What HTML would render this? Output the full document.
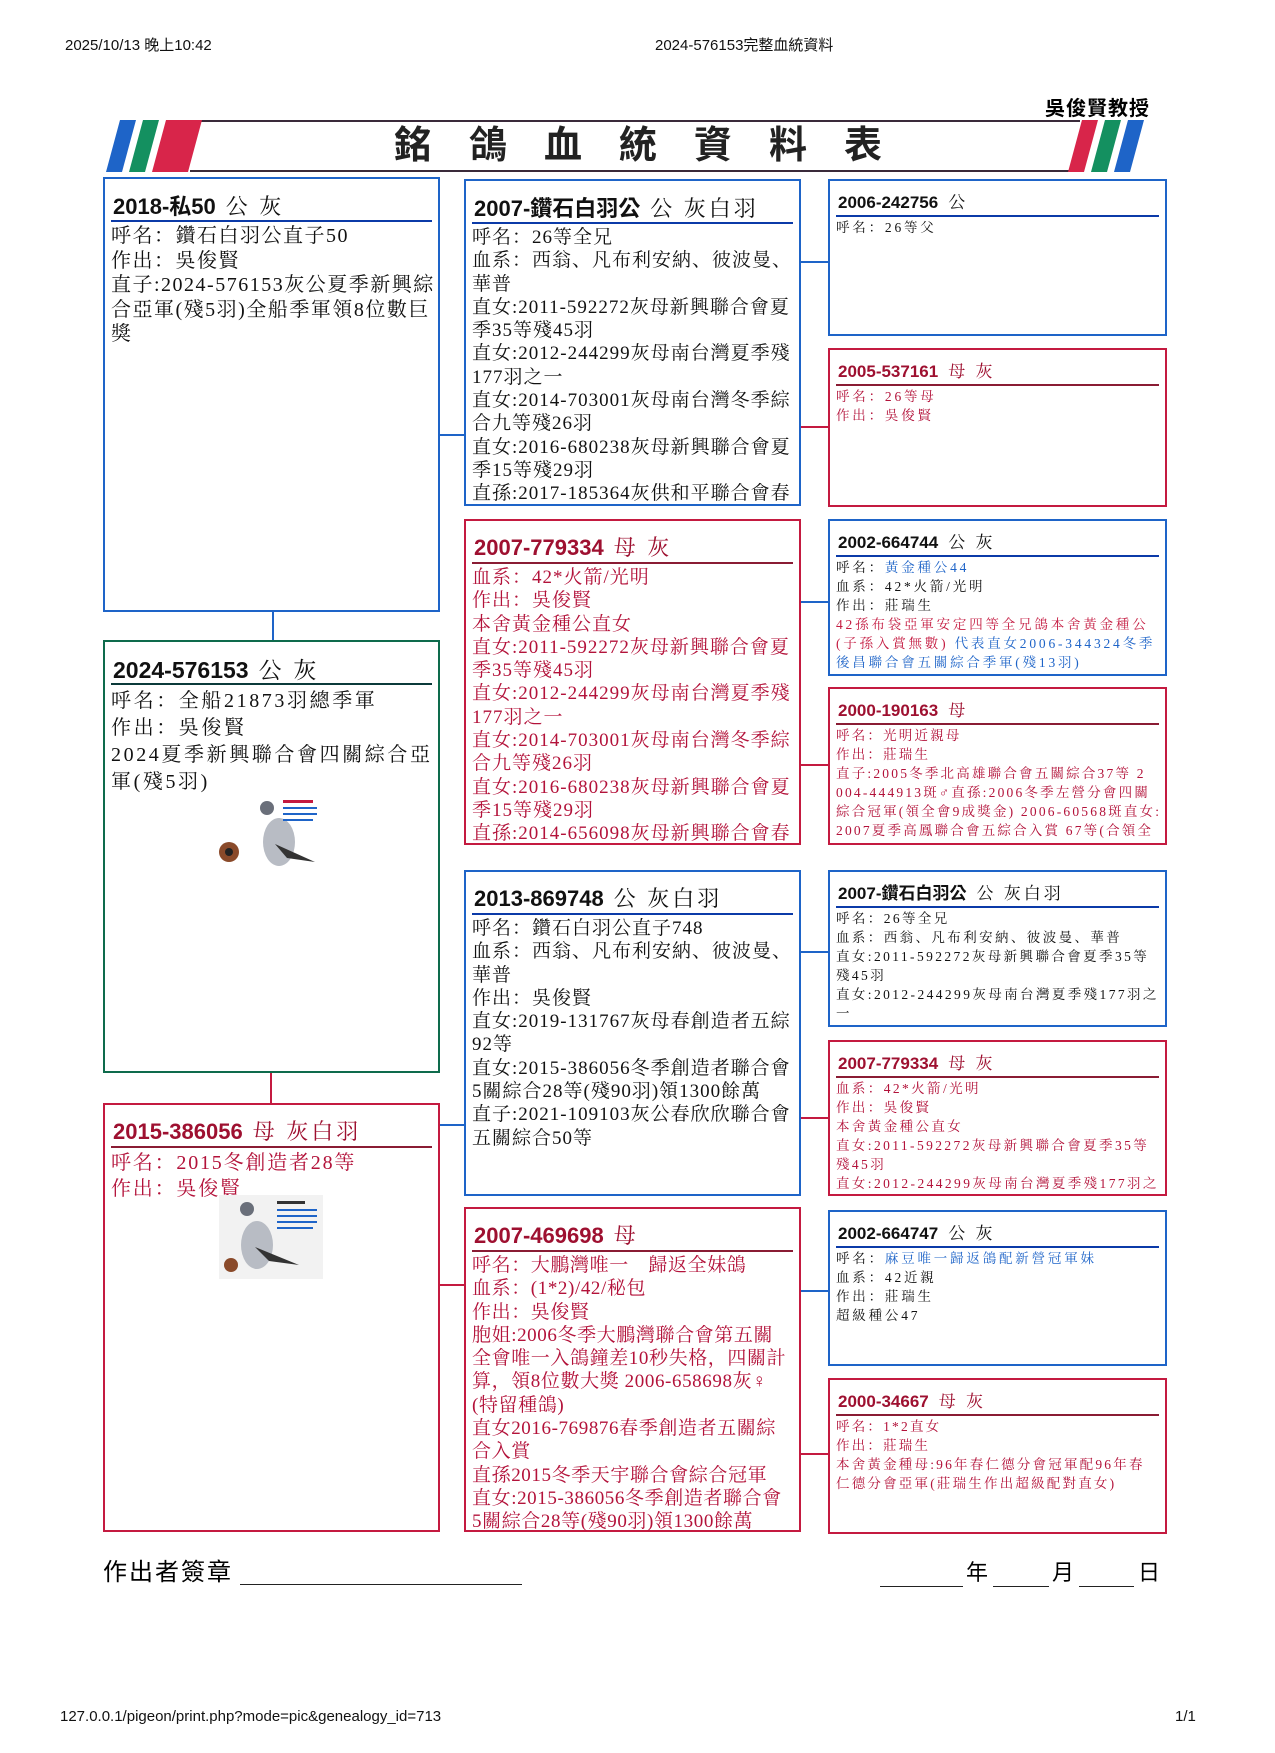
<!DOCTYPE html>
<html><head><meta charset="utf-8"><style>
body{margin:0;width:1275px;height:1753px;background:#fff;position:relative;overflow:hidden;font-family:"Liberation Serif","Noto Serif CJK SC",serif;}
.a{position:absolute;}
.hd{font-family:"Liberation Sans","Noto Sans CJK TC",sans-serif;font-size:15px;color:#111;}
.box{position:absolute;border:2px solid #1e64c8;box-sizing:border-box;background:#fff;}
.box.f{border-color:#c41a40;}
.box.g{border-color:#0e6b4c;}
.t{position:absolute;left:8px;font-family:"Liberation Sans","Noto Sans CJK TC",sans-serif;font-weight:bold;color:#111;white-space:nowrap;}
.t span{font-family:"Liberation Serif","Noto Serif CJK SC",serif;font-weight:normal;margin-left:10px;letter-spacing:3px;}
.f .t{color:#9e1030;}
.r{position:absolute;left:6px;right:6px;height:2px;background:#0b3aa8;}
.f .r{background:#8a1c34;}
.g .r{background:#0b3a3a;}
.b{position:absolute;left:6px;white-space:nowrap;color:#111;}
.f .b{color:#b3123a;}
.big .t{top:10px;font-size:22px;}
.big .r{top:41px;}
.big .b{top:45px;font-size:19px;line-height:23.3px;letter-spacing:1px;}
.sm .t{top:7px;font-size:17px;}
.sm .r{top:34px;height:1.5px;}
.sm .b{top:37px;font-size:13.5px;line-height:19px;letter-spacing:2.8px;}
.hl{position:absolute;height:2px;}
.vl{position:absolute;width:2px;}
.bl{background:#1e64c8;}.rd{background:#c41a40;}
.blu{color:#1e64c8;}.red{color:#c41a40;}
</style></head><body>
<div class="a hd" style="left:65px;top:34px;">2025/10/13 晚上10:42</div>
<div class="a hd" style="left:655px;top:34px;">2024-576153完整血統資料</div>
<div class="a" style="left:1045px;top:92px;font-size:20px;font-weight:bold;font-family:'Liberation Sans','Noto Sans CJK TC',sans-serif;letter-spacing:1px;">吳俊賢教授</div>

<svg class="a" style="left:0;top:0" width="1275" height="200">
<line x1="200" y1="121" x2="1080" y2="121" stroke="#3a2a3a" stroke-width="2"/>
<line x1="190" y1="171" x2="1070" y2="171" stroke="#3a2a3a" stroke-width="2"/>
<polygon points="120,120 136,120 122,172 106,172" fill="#1e64c8"/>
<polygon points="143,120 159,120 145,172 129,172" fill="#149060"/>
<polygon points="166,120 202,120 188,172 152,172" fill="#d8254a"/>
<polygon points="1082,120 1098,120 1084,172 1068,172" fill="#d8254a"/>
<polygon points="1105,120 1121,120 1107,172 1091,172" fill="#149060"/>
<polygon points="1128,120 1144,120 1130,172 1114,172" fill="#1e64c8"/>
</svg>
<div class="a" style="left:394px;top:125px;font-size:38px;line-height:42px;font-weight:bold;letter-spacing:37px;font-family:'Liberation Sans','Noto Sans CJK TC',sans-serif;color:#222;">銘鴿血統資料表</div>

<div class="vl bl" style="left:272px;top:612px;height:28px;"></div>
<div class="vl rd" style="left:270px;top:1073px;height:30px;"></div>
<div class="hl bl" style="left:440px;top:434px;width:24px;"></div>
<div class="hl bl" style="left:440px;top:1124px;width:24px;"></div>
<div class="hl rd" style="left:440px;top:1284px;width:24px;"></div>
<div class="hl bl" style="left:801px;top:261px;width:28px;"></div>
<div class="hl rd" style="left:801px;top:426px;width:28px;"></div>
<div class="hl bl" style="left:801px;top:601px;width:28px;"></div>
<div class="hl rd" style="left:801px;top:764px;width:28px;"></div>
<div class="hl bl" style="left:801px;top:951px;width:28px;"></div>
<div class="hl rd" style="left:801px;top:1117px;width:28px;"></div>
<div class="hl bl" style="left:801px;top:1290px;width:28px;"></div>
<div class="hl rd" style="left:801px;top:1453px;width:28px;"></div>

<div class="box big" style="left:103px;top:177px;width:337px;height:435px;">
<div class="t">2018-私50<span>公 灰</span></div><div class="r"></div>
<div class="b" style="line-height:24.6px;font-size:20px;letter-spacing:1.5px;">呼名：鑽石白羽公直子50<br>作出：吳俊賢<br>直子:2024-576153灰公夏季新興綜<br>合亞軍(殘5羽)全船季軍領8位數巨<br>獎</div>
</div>
<div class="box big g" style="left:103px;top:640px;width:337px;height:433px;">
<div class="t" style="font-size:23px;">2024-576153<span>公 灰</span></div><div class="r"></div>
<div class="b" style="font-size:20px;line-height:27px;top:46px;letter-spacing:2.6px;">呼名：全船21873羽總季軍<br>作出：吳俊賢<br>2024夏季新興聯合會四關綜合亞<br>軍(殘5羽)</div>
<svg class="a" style="left:112px;top:152px" width="110" height="82">
<ellipse cx="62" cy="48" rx="16" ry="24" fill="#b8bcc4"/><circle cx="50" cy="14" r="7" fill="#6a6f7a"/>
<path d="M58 50 L98 68 L70 64 Z" fill="#333"/><ellipse cx="12" cy="58" rx="10" ry="10" fill="#8a4a2a"/><circle cx="12" cy="58" r="4" fill="#222"/>
<rect x="66" y="6" width="30" height="3" fill="#c41a40"/><rect x="66" y="13" width="34" height="2" fill="#1e64c8"/><rect x="66" y="19" width="34" height="2" fill="#1e64c8"/><rect x="66" y="25" width="30" height="2" fill="#1e64c8"/>
</svg>
</div>
<div class="box big f" style="left:103px;top:1103px;width:337px;height:429px;">
<div class="t">2015-386056<span>母 灰白羽</span></div><div class="r"></div>
<div class="b" style="font-size:20px;line-height:26px;letter-spacing:1.8px;">呼名：2015冬創造者28等<br>作出：吳俊賢</div>
<div class="a" style="left:114px;top:90px;width:104px;height:84px;background:#f2f2f2;"></div>
<svg class="a" style="left:114px;top:90px" width="104" height="84">
<ellipse cx="38" cy="50" rx="16" ry="24" fill="#b8bcc4"/><circle cx="28" cy="14" r="7" fill="#6a6f7a"/>
<path d="M36 52 L80 70 L50 66 Z" fill="#333"/><circle cx="12" cy="70" r="7" fill="#8a4a2a"/>
<rect x="58" y="6" width="28" height="3" fill="#333"/><rect x="58" y="14" width="40" height="2" fill="#1e64c8"/><rect x="58" y="20" width="40" height="2" fill="#1e64c8"/><rect x="58" y="26" width="40" height="2" fill="#1e64c8"/><rect x="58" y="32" width="36" height="2" fill="#1e64c8"/>
</svg>
</div>

<div class="box big" style="left:464px;top:179px;width:337px;height:327px;">
<div class="t">2007-鑽石白羽公<span>公 灰白羽</span></div><div class="r"></div>
<div class="b">呼名：26等全兄<br>血系：西翁、凡布利安納、彼波曼、<br>華普<br>直女:2011-592272灰母新興聯合會夏<br>季35等殘45羽<br>直女:2012-244299灰母南台灣夏季殘<br>177羽之一<br>直女:2014-703001灰母南台灣冬季綜<br>合九等殘26羽<br>直女:2016-680238灰母新興聯合會夏<br>季15等殘29羽<br>直孫:2017-185364灰供和平聯合會春</div>
</div>
<div class="box big f" style="left:464px;top:519px;width:337px;height:326px;overflow:hidden;">
<div class="t">2007-779334<span>母 灰</span></div><div class="r"></div>
<div class="b">血系：42*火箭/光明<br>作出：吳俊賢<br>本舍黃金種公直女<br>直女:2011-592272灰母新興聯合會夏<br>季35等殘45羽<br>直女:2012-244299灰母南台灣夏季殘<br>177羽之一<br>直女:2014-703001灰母南台灣冬季綜<br>合九等殘26羽<br>直女:2016-680238灰母新興聯合會夏<br>季15等殘29羽<br>直孫:2014-656098灰母新興聯合會春<br>季殘24羽之</div>
</div>
<div class="box big" style="left:464px;top:870px;width:337px;height:326px;">
<div class="t">2013-869748<span>公 灰白羽</span></div><div class="r"></div>
<div class="b">呼名：鑽石白羽公直子748<br>血系：西翁、凡布利安納、彼波曼、<br>華普<br>作出：吳俊賢<br>直女:2019-131767灰母春創造者五綜<br>92等<br>直女:2015-386056冬季創造者聯合會<br>5關綜合28等(殘90羽)領1300餘萬<br>直子:2021-109103灰公春欣欣聯合會<br>五關綜合50等</div>
</div>
<div class="box big f" style="left:464px;top:1207px;width:337px;height:325px;">
<div class="t">2007-469698<span>母</span></div><div class="r"></div>
<div class="b" style="letter-spacing:0.6px;">呼名：大鵬灣唯一　歸返全妹鴿<br>血系：(1*2)/42/秘包<br>作出：吳俊賢<br>胞姐:2006冬季大鵬灣聯合會第五關<br>全會唯一入鴿鐘差10秒失格，四關計<br>算，領8位數大獎 2006-658698灰♀<br>(特留種鴿)<br>直女2016-769876春季創造者五關綜<br>合入賞<br>直孫2015冬季天宇聯合會綜合冠軍<br>直女:2015-386056冬季創造者聯合會<br>5關綜合28等(殘90羽)領1300餘萬</div>
</div>

<div class="box sm" style="left:828px;top:179px;width:339px;height:157px;">
<div class="t">2006-242756<span>公</span></div><div class="r"></div>
<div class="b">呼名：26等父</div>
</div>
<div class="box sm f" style="left:828px;top:348px;width:339px;height:159px;">
<div class="t">2005-537161<span>母 灰</span></div><div class="r"></div>
<div class="b">呼名：26等母<br>作出：吳俊賢</div>
</div>
<div class="box sm" style="left:828px;top:519px;width:339px;height:157px;">
<div class="t">2002-664744<span>公 灰</span></div><div class="r"></div>
<div class="b">呼名：<span class="blu">黃金種公44</span><br>血系：42*火箭/光明<br>作出：莊瑞生<br><span class="red">42孫布袋亞軍安定四等全兄鴿本舍黃金種公<br>(子孫入賞無數)</span> <span class="blu">代表直女2006-344324冬季<br>後昌聯合會五關綜合季軍(殘13羽)</span></div>
</div>
<div class="box sm f" style="left:828px;top:687px;width:339px;height:158px;overflow:hidden;">
<div class="t">2000-190163<span>母</span></div><div class="r"></div>
<div class="b" style="letter-spacing:2.2px;">呼名：光明近親母<br>作出：莊瑞生<br>直子:2005冬季北高雄聯合會五關綜合37等 2<br>004-444913斑♂直孫:2006冬季左營分會四關<br>綜合冠軍(領全會9成獎金) 2006-60568斑直女:<br>2007夏季高鳳聯合會五綜合入賞 67等(合領全</div>
</div>
<div class="box sm" style="left:828px;top:870px;width:339px;height:157px;">
<div class="t">2007-鑽石白羽公<span>公 灰白羽</span></div><div class="r"></div>
<div class="b" style="letter-spacing:2.4px;">呼名：26等全兄<br>血系：西翁、凡布利安納、彼波曼、華普<br>直女:2011-592272灰母新興聯合會夏季35等<br>殘45羽<br>直女:2012-244299灰母南台灣夏季殘177羽之<br>一</div>
</div>
<div class="box sm f" style="left:828px;top:1040px;width:339px;height:156px;overflow:hidden;">
<div class="t">2007-779334<span>母 灰</span></div><div class="r"></div>
<div class="b" style="letter-spacing:2.4px;">血系：42*火箭/光明<br>作出：吳俊賢<br>本舍黃金種公直女<br>直女:2011-592272灰母新興聯合會夏季35等<br>殘45羽<br>直女:2012-244299灰母南台灣夏季殘177羽之</div>
</div>
<div class="box sm" style="left:828px;top:1210px;width:339px;height:156px;">
<div class="t">2002-664747<span>公 灰</span></div><div class="r"></div>
<div class="b">呼名：<span class="blu">麻豆唯一歸返鴿配新營冠軍妹</span><br>血系：42近親<br>作出：莊瑞生<br>超級種公47</div>
</div>
<div class="box sm f" style="left:828px;top:1378px;width:339px;height:156px;">
<div class="t">2000-34667<span>母 灰</span></div><div class="r"></div>
<div class="b" style="letter-spacing:2.2px;">呼名：1*2直女<br>作出：莊瑞生<br>本舍黃金種母:96年春仁德分會冠軍配96年春<br>仁德分會亞軍(莊瑞生作出超級配對直女)</div>
</div>

<div class="a" style="left:103px;top:1552px;font-size:24px;letter-spacing:2px;font-family:'Liberation Sans','Noto Sans CJK TC',sans-serif;">作出者簽章</div>
<div class="hl" style="left:240px;top:1584px;width:282px;height:1px;background:#222;"></div>
<div class="hl" style="left:880px;top:1586px;width:83px;height:1px;background:#222;"></div>
<div class="a" style="left:966px;top:1555px;font-size:22px;font-family:'Liberation Sans','Noto Sans CJK TC',sans-serif;">年</div>
<div class="hl" style="left:993px;top:1586px;width:56px;height:1px;background:#222;"></div>
<div class="a" style="left:1052px;top:1555px;font-size:22px;font-family:'Liberation Sans','Noto Sans CJK TC',sans-serif;">月</div>
<div class="hl" style="left:1079px;top:1586px;width:55px;height:1px;background:#222;"></div>
<div class="a" style="left:1138px;top:1555px;font-size:22px;font-family:'Liberation Sans','Noto Sans CJK TC',sans-serif;">日</div>
<div class="a hd" style="left:60px;top:1708px;">127.0.0.1/pigeon/print.php?mode=pic&amp;genealogy_id=713</div>
<div class="a hd" style="left:1175px;top:1708px;">1/1</div>
</body></html>
